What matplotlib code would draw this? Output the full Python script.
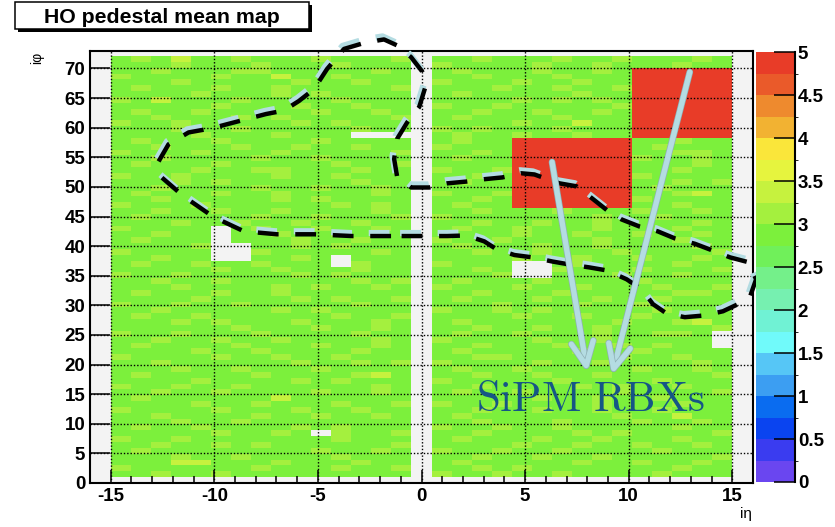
import matplotlib
matplotlib.use("Agg")
import matplotlib.pyplot as plt
import matplotlib.patheffects as pe
import matplotlib.transforms as mtransforms
from matplotlib.colors import ListedColormap, BoundaryNorm
from matplotlib.patches import Rectangle
from matplotlib.ticker import MultipleLocator
import numpy as np

plt.rcParams["font.family"] = ["Liberation Sans", "DejaVu Sans"]
plt.rcParams["axes.unicode_minus"] = False
plt.rcParams["lines.scale_dashes"] = False
plt.rcParams["mathtext.fontset"] = "cm"

# pedestal mean per cell
# g ~ 2.9, y ~ 3.1, Y ~ 3.35, r ~ 4.9, "." = no entry
# rows: iphi 72 (top) down to iphi 1;  ieta -15..-1 | ieta 1..15
cell_rows = [
    "gygYg gyggg ygggy | ggygg gyggy gggyg",  # 72
    "gggyg ggygg gyggg | ygggg yggyg ggygg",
    "ggygg gyygg gggyg | gyggg yggyg rrrrr",  # 70
    "ygggg yggYg gyggg | ggygg gyggg rrrrr",
    "gggyg ggggy ggygg | ygggy ggygg rrrrr",
    "gyggg yggyg ggggy | gggyg gyggy rrrrr",
    "ggggy gggyg ygggg | gyggg ggygg rrrrr",
    "ygYgg gyggg gyggg | ggggy gygyg rrrrr",  # 65
    "ggggg ygggy ggygg | yggyg ggggy rrrrr",
    "gyggy ggggg yggyg | ggygg yggyg rrrrr",
    "ggygg gygyg ggggy | gyggg gyggg rrrrr",
    "yggyg ggggy gyggg | ggggy ggYgg rrrrr",
    "gggyg gyggg ggygg | ygygg gyggg rrrrr",  # 60
    "ggggy gggyg gg... | gyggy ggygg rrrrr",
    "gyggg ygggg ygggg | gyggr rrrrr ggygg",
    "ggygg gyggy ggygg | ygggr rrrrr gyggg",
    "ygggy gggyg ggggy | ggygr rrrrr ggyyg",
    "ggygg ggygg ygggg | gyggr rrrrr yggyg",  # 55
    "gyggg ygggg gyggy | ggggr rrrrr gggyg",
    "ggggy ggyyg ggygg | yggyr rrrrr ggygg",
    "yggyg gggyg gyggg | ggygr rrrrr ygggg",
    "gggyg ygggg ggygg | gyggr rrrrr ggygy",
    "ggygg ggygg yggyg | ggggr rrrrr gyggg",  # 50
    "gyggg yggyg gggyg | yggyr rrrrr ggyYg",
    "ggygg gggyg ygggg | ggygr rrrrr ygggg",
    "ygggy ggggg gygyg | gyggr rrrrr ggygg",
    "ggygg yggyg gggyg | ggygg gyggg yggyg",
    "gyggg ggygg ygggy | ygggg gggyg gyggg",  # 45
    "gggyg gyggy ggygg | ggygg yggyg gggyg",
    "ygggg .gygg yggyg | gyggy gggyg ggygg",
    "ggygg .ggyg gyggg | ggggy ggygg yggyg",
    "gyggg .gggy ggygg | yggyg gggyg ggygg",
    "ggggy ..ggy gyggg | gyggg yggyg gggyg",  # 40
    "ygggg ..ygg gggyg | ggygg ygggy ggggy",
    "ggygg ..ggy g.ggg | ggggy ggygg yggyg",
    "gyggy ggygg g.ygg | yggg. .gygg ggygg",
    "ggggg yggyg ggygg | ggyg. .yggg ygggy",
    "yggyg ggggy gyggg | gggy. .gggy ggygg",  # 35
    "ggygg ygggg ggygy | gyggg ygggg ygggg",
    "gggyg gggyg yggyg | ygggy ggygg gyggy",
    "gyggg yggyg ggggg | ggygg gyggg ggyyg",
    "ggggy ggggy gyggy | gyggg yggyg gyggg",
    "yggyg gyggg ggygg | gggyg ggygg ygggg",  # 30
    "ggygg gggyg ygggg | yggyg ygggg gyggg",
    "gyggy ggggg gyggy | ggggy ggygg ygggg",
    "gggyg ygggy gggyg | gyggg ggggy ggyYg",
    "ggggg gyggg yggyg | ggygg yggyg ggggy",
    "yggyg ggygg ggygg | gyggy gggyg gyyg.",  # 25
    "ggygg yggyg gggyg | ygggg yggyg gggg.",
    "gyggg gyggg yggyg | ggygg gyggy gygg.",
    "ggggy ggygg ggygg | gyggg ggygg ygggg",
    "ygggg yggyg gyggg | ggyyg ggggy ggygg",
    "ggygg ggggy ggygy | ygggg yggyg gggyg",  # 20
    "gggyg gyggg ygggg | gyggy ggggg yggyg",
    "gyggg ggygg ggyYg | ggygg yggyg ggggy",
    "ggggy ggggy gyggg | ygggg gyggg gyggg",
    "yggyg gyggg gggyg | ggygg ggygy ggygg",
    "ggygg ygggg yggyg | gyggy ggggy ggggy",  # 15
    "gyggg gggYg ggggg | ggggg yggyg gyggg",
    "ggggy ggygg gyggy | yggyg gggyg ggygg",
    "ygggg ygggy ggygg | ggygg yggyg gyggg",
    "ggygg ggygg yggyg | gyggg ggggy ggYgg",
    "gggyg gyggg ggggg | ggygg gyggg yggyg",  # 10
    "gyggy ggggy gyggg | yggyg gyggg ggygg",
    "ggggg yggyg .yggy | ggygg ggygy ggggy",
    "yggyg ggggg gyggg | gyggg yggyg ggygg",
    "ggygg ygygg ggggy | ggggy ggygg yggyg",
    "gyggg ggggg yggyg | yggyg gyggg gyggg",  # 5
    "gggyg gyggg gyggg | ggygg yggyg ggggy",
    "gggYY gggyg ggygg | gyggg ggygg yggyg",
    "ygggg ggygg gyggy | ggygy ggggg ggygg",
    "ggygg ygggg ggggg | yggyg gyggg gyggg",  # 1
]
cell_values = {"g": 2.9, "y": 3.1, "Y": 3.35, "r": 4.9, ".": np.nan}

# bin edges of the two detector halves and of iphi
eta_edges_minus = np.linspace(-15, -0.5, 16)
eta_edges_plus = np.linspace(0.5, 15, 16)
phi_edges = np.linspace(1.0, 72.1, 73)

# hand drawn dashed loop (ieta, iphi)
loop_eta = [-1.47, -3.35, -5.19, -6.98, -8.57, -10.03, -11.48, -12.54, -12.69, -12.21,
            -11.24, -10.13, -8.82, -7.51, -6.64, -5.92, -5.19, -4.56, -3.74, -2.68,
            -1.81, -1.18, -0.50, 0.03, 0.18, -0.11, -0.69, -1.18, -1.32, -1.18,
            -0.50, 0.37, 1.24, 2.16, 3.03, 3.90, 4.82, 5.45, 6.08, 6.66,
            7.48, 8.11, 8.94, 9.66, 10.53, 11.40, 12.23, 13.19, 14.02, 14.89,
            15.76, 16.15, 15.86, 15.28, 14.55, 13.68, 12.71, 11.84, 11.17, 10.63,
            9.90, 8.94, 8.11, 7.14, 6.32, 5.35, 4.48, 3.61, 3.03, 2.16,
            1.24, 0.28, -0.50, -1.47]
loop_phi = [41.7, 41.7, 42.0, 42.0, 42.5, 44.9, 48.4, 51.6, 54.3, 57.2,
            59.2, 59.9, 61.1, 62.3, 62.9, 64.5, 66.5, 69.9, 73.3, 74.4,
            74.9, 73.9, 71.9, 69.5, 66.8, 63.5, 60.9, 58.1, 54.7, 51.8,
            49.9, 49.9, 50.6, 50.9, 51.3, 51.6, 52.3, 52.1, 51.3, 50.6,
            50.1, 48.4, 46.1, 44.5, 43.3, 42.5, 41.3, 40.4, 39.3, 38.1,
            37.3, 34.4, 31.5, 30.2, 29.0, 28.3, 28.0, 28.6, 30.2, 32.7,
            34.4, 35.9, 36.4, 36.9, 37.4, 38.1, 38.5, 39.5, 40.8, 41.8,
            41.7, 41.7, 41.7, 41.7]

# arrows pointing at the SiPM readout boxes
arrow_tails = [(6.3, 54.2), (12.95, 69.4)]
arrow_tips = [(8.0, 18.8), (9.2, 18.3)]
label_pos = (2.65, 12.1)

cb_ticks = [0, 0.5, 1, 1.5, 2, 2.5, 3, 3.5, 4, 4.5, 5]
cb_ticklabels = ["0", "0.5", "1", "1.5", "2", "2.5", "3", "3.5", "4", "4.5", "5"]

# ROOT-like palette, 20 contours from 0 to 5
palette = ["#6a46f0", "#3a3cf0", "#0a44f0", "#0a6cf0", "#3c9ef2",
           "#56c6f6", "#70fafa", "#70f2d4", "#76f0b0", "#74f08a",
           "#70f05a", "#7cf03c", "#a4f03e", "#c6f23e", "#e6f43e",
           "#fae63a", "#f2b232", "#ee8a2e", "#ea5a2a", "#e83c28"]
levels = np.linspace(0, 5, 21)
cmap = ListedColormap(palette)
norm = BoundaryNorm(levels, cmap.N)

left_vals, right_vals = [], []
for row in cell_rows[::-1]:
    l, r = row.replace(" ", "").split("|")
    left_vals.append([cell_values[c] for c in l])
    right_vals.append([cell_values[c] for c in r])
left_vals = np.ma.masked_invalid(np.array(left_vals))
right_vals = np.ma.masked_invalid(np.array(right_vals))

fig = plt.figure(figsize=(8.35, 5.27), dpi=100)
ax = fig.add_axes([0.1078, 0.0835, 0.7940, 0.8203])
ax.set_facecolor("#f3f3f3")

mesh = ax.pcolormesh(eta_edges_minus, phi_edges, left_vals, cmap=cmap, norm=norm)
ax.pcolormesh(eta_edges_plus, phi_edges, right_vals, cmap=cmap, norm=norm)

ax.set_xlim(-16, 16)
ax.set_ylim(0, 73)
ax.xaxis.set_major_locator(MultipleLocator(5))
ax.xaxis.set_minor_locator(MultipleLocator(1))
ax.yaxis.set_major_locator(MultipleLocator(5))
ax.tick_params(axis="x", which="major", direction="in", length=9.5, width=1.1, pad=3.5,
               labelsize=13.5, top=False)
ax.tick_params(axis="x", which="minor", direction="in", length=5, width=1.1, top=False)
ax.tick_params(axis="y", which="major", direction="in", length=14.5, width=1.1, pad=3.5,
               labelsize=13.5, right=False)
for lab in ax.get_xticklabels() + ax.get_yticklabels():
    lab.set_fontweight("bold")
for s in ax.spines.values():
    s.set_linewidth(1.5)
ax.set_axisbelow("line")
ax.grid(True, which="major", color="black", linestyle=(0, (1, 1.4)), linewidth=1.0)

# dashed loop: light blue shadow + black dashes
shadow = mtransforms.offset_copy(ax.transData, fig=fig, x=-1.5, y=3, units="dots")
ax.plot(loop_eta, loop_phi, color="#b4dce2", lw=4.5, dashes=(15, 12), transform=shadow,
        clip_on=False, zorder=3)
ax.plot(loop_eta, loop_phi, color="black", lw=3.2, dashes=(15, 12), clip_on=False, zorder=3)

for tail, tip in zip(arrow_tails, arrow_tips):
    ax.annotate("", xy=tip, xytext=tail,
                arrowprops=dict(arrowstyle="->,head_length=1.7,head_width=0.8",
                                mutation_scale=10, color="#b4dce2", lw=3.8,
                                shrinkA=0, shrinkB=0,
                                path_effects=[pe.withStroke(linewidth=4.8, foreground="#8fb0b6")]),
                zorder=4)

ax.text(label_pos[0], label_pos[1], r"$\mathrm{SiPM\ RBXs}$", color="#165686",
        fontsize=31, ha="left", va="baseline", zorder=4)

# colour scale
cax = fig.add_axes([0.9054, 0.0854, 0.0467, 0.8150])
cb = fig.colorbar(mesh, cax=cax, ticks=cb_ticks)
cb.outline.set_visible(False)
cb.ax.set_yticklabels(cb_ticklabels)
cax.tick_params(direction="in", length=15, width=1.1, pad=2, labelsize=13.5)
for lab in cax.get_yticklabels():
    lab.set_fontweight("bold")
cax.plot([1, 1], [0, 1], transform=cax.transAxes, color="black", lw=1.5, clip_on=False)

# title pave with shadow
bx, by, bw, bh = 15 / 835, 1 - 29 / 527, 294 / 835, 27 / 527
fig.add_artist(Rectangle((bx + 3 / 835, by - 3 / 527), bw, bh, transform=fig.transFigure,
                         facecolor="black", edgecolor="none"))
fig.add_artist(Rectangle((bx, by), bw, bh, transform=fig.transFigure,
                         facecolor="white", edgecolor="black", lw=1.1))
fig.text(bx + bw / 2, 1 - 22.7 / 527, "HO pedestal mean map", ha="center", va="baseline",
         fontsize=15.3, fontweight="bold")

# axis titles
fig.text(37 / 835, 1 - 52 / 527, "iφ", rotation=90, ha="center", va="top", fontsize=10)
fig.text(752 / 835, 1 - 507 / 527, "iη", ha="right", va="top", fontsize=11)

fig.savefig("out.png", dpi=100)
